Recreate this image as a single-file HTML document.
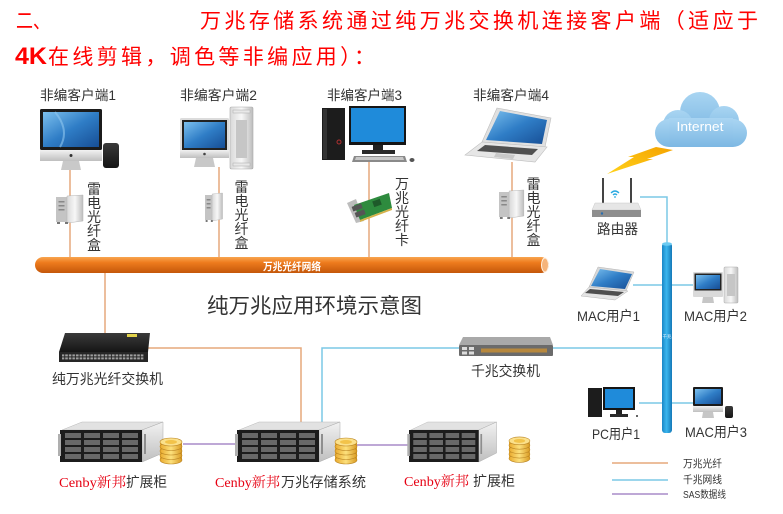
<!DOCTYPE html>
<html><head><meta charset="utf-8">
<style>
html,body{margin:0;padding:0;background:#fff;}
svg{display:block;}
text{font-family:"Liberation Sans","Noto Sans CJK SC",sans-serif;}
.lbl{fill:#333;}
.serif{font-family:"Liberation Serif","Noto Serif CJK SC",serif;}
</style></head><body>
<svg width="783" height="514" viewBox="0 0 783 514" xmlns="http://www.w3.org/2000/svg">
<defs>
 <linearGradient id="bar" x1="0" y1="0" x2="0" y2="1">
  <stop offset="0" stop-color="#F8A550"/>
  <stop offset="0.35" stop-color="#EE7B1D"/>
  <stop offset="1" stop-color="#C4570A"/>
 </linearGradient>
 <linearGradient id="scr" x1="0" y1="0" x2="1" y2="1">
  <stop offset="0" stop-color="#7CC0EE"/>
  <stop offset="0.5" stop-color="#2F7DC6"/>
  <stop offset="1" stop-color="#174E95"/>
 </linearGradient>
 <linearGradient id="silv" x1="0" y1="0" x2="1" y2="0">
  <stop offset="0" stop-color="#D8D8D8"/>
  <stop offset="0.5" stop-color="#F7F7F7"/>
  <stop offset="1" stop-color="#BDBDBD"/>
 </linearGradient>
 <linearGradient id="silvV" x1="0" y1="0" x2="0" y2="1">
  <stop offset="0" stop-color="#F2F2F2"/>
  <stop offset="1" stop-color="#BFBFBF"/>
 </linearGradient>
 <linearGradient id="pipe" x1="0" y1="0" x2="1" y2="0">
  <stop offset="0" stop-color="#1A86C6"/>
  <stop offset="0.45" stop-color="#3BB6EE"/>
  <stop offset="1" stop-color="#1479B8"/>
 </linearGradient>
 <linearGradient id="cloud" x1="0" y1="0" x2="0" y2="1">
  <stop offset="0" stop-color="#A9D5F2"/>
  <stop offset="1" stop-color="#7DB8E3"/>
 </linearGradient>
 <linearGradient id="bolt" x1="0" y1="1" x2="1" y2="0">
  <stop offset="0" stop-color="#FFD21A"/>
  <stop offset="1" stop-color="#F5A300"/>
 </linearGradient>
 <linearGradient id="blk" x1="0" y1="0" x2="0" y2="1">
  <stop offset="0" stop-color="#3A3A3A"/>
  <stop offset="1" stop-color="#151515"/>
 </linearGradient>
 <linearGradient id="gold" x1="0" y1="0" x2="1" y2="0">
  <stop offset="0" stop-color="#E9A92C"/>
  <stop offset="0.5" stop-color="#FCE07C"/>
  <stop offset="1" stop-color="#D99A22"/>
 </linearGradient>
 <pattern id="ports" width="3.6" height="3" patternUnits="userSpaceOnUse">
  <rect x="0.4" y="0.4" width="2.6" height="2" fill="#A0A0A0"/>
 </pattern>
 <g id="server">
  <polygon points="2,8 22,0 103,0 82,8" fill="#E2E2E2" stroke="#B8B8B8" stroke-width="0.5"/>
  <polygon points="82,8 103,0 103,31 82,40" fill="url(#silvV)" stroke="#AAA" stroke-width="0.5"/>
  <rect x="0" y="8" width="82" height="32" fill="#1C1C1C"/>
  <rect x="-2" y="12" width="3" height="22" fill="#AFAFAF"/>
  <rect x="84" y="12" width="2" height="20" fill="#8E8E8E"/>
  <g fill="#686868">
   <rect x="5" y="11" width="16" height="5"/><rect x="24" y="11" width="16" height="5"/><rect x="43" y="11" width="16" height="5"/><rect x="62" y="11" width="16" height="5"/>
   <rect x="5" y="18" width="16" height="5"/><rect x="24" y="18" width="16" height="5"/><rect x="43" y="18" width="16" height="5"/><rect x="62" y="18" width="16" height="5"/>
   <rect x="5" y="25" width="16" height="5"/><rect x="24" y="25" width="16" height="5"/><rect x="43" y="25" width="16" height="5"/><rect x="62" y="25" width="16" height="5"/>
   <rect x="5" y="32" width="16" height="5"/><rect x="24" y="32" width="16" height="5"/><rect x="43" y="32" width="16" height="5"/><rect x="62" y="32" width="16" height="5"/>
  </g>
 </g>
 <g id="coins" stroke="#B98423" stroke-width="0.6">
  <rect x="0" y="5" width="22" height="18" fill="url(#gold)" stroke="none"/>
  <ellipse cx="11" cy="23" rx="11" ry="4" fill="url(#gold)"/>
  <ellipse cx="11" cy="18.5" rx="11" ry="4" fill="url(#gold)"/>
  <ellipse cx="11" cy="14" rx="11" ry="4" fill="url(#gold)"/>
  <ellipse cx="11" cy="9.5" rx="11" ry="4" fill="url(#gold)"/>
  <ellipse cx="11" cy="5" rx="11" ry="4" fill="#FBE08A"/>
  <ellipse cx="11" cy="5" rx="6" ry="2" fill="#F2C34A" stroke="none"/>
 </g>
 <g id="tbox">
  <rect x="0" y="2" width="11" height="25" fill="#C4C4C4"/>
  <polygon points="11,1 27,0 27,26 11,28" fill="url(#silv)" stroke="#B5B5B5" stroke-width="0.5"/>
  <rect x="2.5" y="6" width="6" height="1.5" fill="#888"/>
  <rect x="2.5" y="10" width="6" height="1.5" fill="#888"/>
  <rect x="2.5" y="14" width="6" height="1.5" fill="#888"/>
  <rect x="1" y="27" width="3" height="2" fill="#777"/>
  <rect x="9" y="27" width="3" height="2" fill="#777"/>
 </g>
</defs>

<!-- Title -->
<text x="16" y="28" font-size="21" fill="#F00" textLength="34" lengthAdjust="spacingAndGlyphs">二、</text>
<text x="200" y="28" font-size="21" fill="#F00" textLength="558" lengthAdjust="spacing">万兆存储系统通过纯万兆交换机连接客户端（适应于</text>
<text x="15" y="64" font-size="24" font-weight="bold" fill="#F00" textLength="32" lengthAdjust="spacingAndGlyphs">4K</text>
<text x="48" y="64" font-size="21" fill="#F00" textLength="327" lengthAdjust="spacing">在线剪辑，调色等非编应用）：</text>

<!-- client labels -->
<text class="lbl" x="40" y="100" font-size="13.5" textLength="76" lengthAdjust="spacingAndGlyphs">非编客户端1</text>
<text class="lbl" x="180" y="100" font-size="13.5" textLength="77" lengthAdjust="spacingAndGlyphs">非编客户端2</text>
<text class="lbl" x="327" y="100" font-size="13.5" textLength="75" lengthAdjust="spacingAndGlyphs">非编客户端3</text>
<text class="lbl" x="473" y="100" font-size="13.5" textLength="76" lengthAdjust="spacingAndGlyphs">非编客户端4</text>

<!-- connector lines -->
<g stroke="#E6A97C" stroke-width="1.5" fill="none">
 <line x1="70" y1="168" x2="70" y2="258"/>
 <line x1="219" y1="167" x2="219" y2="258"/>
 <line x1="369" y1="162" x2="369" y2="258"/>
 <line x1="512" y1="162" x2="512" y2="258"/>
 <line x1="105" y1="272" x2="105" y2="334"/>
 <path d="M148,348 H301 V423"/>
 <line x1="612" y1="463" x2="668" y2="463"/>
</g>
<g stroke="#7CC8E6" stroke-width="1.5" fill="none">
 <path d="M322,423 V348 H460"/>
 <path d="M552,348 H664"/>
 <path d="M640,197 H667 V244"/>
 <path d="M633,285 H693"/>
 <path d="M639,403 H693"/>
 <line x1="612" y1="480" x2="668" y2="480"/>
</g>
<g stroke="#A88CC8" stroke-width="1.5" fill="none">
 <path d="M183,444 H238"/>
 <path d="M357,445 H410"/>
 <line x1="612" y1="494" x2="668" y2="494"/>
</g>

<!-- orange bar -->
<rect x="35" y="257" width="514" height="16" rx="8" fill="url(#bar)"/>
<ellipse cx="545" cy="265" rx="3.5" ry="7" fill="#F6B47A" stroke="#FFF3E6" stroke-width="1"/>
<text x="292" y="270" font-size="10.5" font-weight="bold" fill="#FFF" text-anchor="middle" textLength="58" lengthAdjust="spacingAndGlyphs">万兆光纤网络</text>

<!-- Client 1: iMac + Mac Pro -->
<rect x="40" y="109" width="62" height="41" rx="1.5" fill="#1B1B1B"/>
<rect x="43" y="112" width="56" height="35" fill="url(#scr)"/>
<path d="M55,112 Q70,130 60,147" stroke="#8FC6EE" stroke-width="2" fill="none" opacity="0.6"/>
<rect x="40" y="150" width="62" height="11" fill="url(#silvV)"/>
<circle cx="71" cy="155.5" r="1.5" fill="#333"/>
<polygon points="63,161 79,161 81,170 61,170" fill="#C9C9C9"/>
<rect x="103" y="143" width="16" height="25" rx="3" fill="url(#blk)"/>
<use href="#tbox" x="56" y="195"/>
<g class="lbl" font-size="14" text-anchor="middle">
 <text x="94" y="194">雷</text><text x="94" y="208">电</text><text x="94" y="222">光</text><text x="94" y="236">纤</text><text x="94" y="250">盒</text>
</g>

<!-- Client 2: silver iMac + Mac Pro tower -->
<rect x="180" y="118" width="49" height="40" rx="1.5" fill="#DCDCDC"/>
<rect x="182" y="120" width="45" height="30" fill="#222"/>
<rect x="184" y="122" width="41" height="26" fill="url(#scr)"/>
<rect x="180" y="150" width="49" height="8" fill="url(#silvV)"/>
<circle cx="204.5" cy="154" r="1.3" fill="#444"/>
<polygon points="196,158 213,158 215,167 194,167" fill="#C8C8C8"/>
<rect x="230" y="107" width="23" height="62" rx="1.5" fill="url(#silv)" stroke="#A9A9A9" stroke-width="0.6"/>
<rect x="233" y="110" width="17" height="3" fill="#E8E8E8" stroke="#AAA" stroke-width="0.5"/>
<rect x="233" y="163" width="17" height="3" fill="#E8E8E8" stroke="#AAA" stroke-width="0.5"/>
<rect x="236" y="120" width="11" height="38" fill="#C6C6C6"/>
<use href="#tbox" x="205" y="193" transform="translate(205,193) scale(0.65,1) translate(-205,-193)"/>
<g class="lbl" font-size="14" text-anchor="middle">
 <text x="241.5" y="192">雷</text><text x="241.5" y="206">电</text><text x="241.5" y="220">光</text><text x="241.5" y="234">纤</text><text x="241.5" y="248">盒</text>
</g>

<!-- Client 3: Dell tower + monitor + NIC -->
<rect x="322" y="108" width="23" height="52" fill="#1C1C1C"/>
<rect x="323" y="109" width="4" height="50" fill="#333"/>
<circle cx="339" cy="142" r="2" fill="none" stroke="#B03030" stroke-width="1"/>
<rect x="349" y="106" width="57" height="39" fill="#151515"/>
<rect x="351" y="108" width="53" height="34" fill="#1F8BDA"/>
<rect x="373" y="145" width="10" height="6" fill="#222"/>
<rect x="362" y="150" width="33" height="4" fill="#2A2A2A"/>
<polygon points="354,156 405,156 407,162 352,162" fill="#8A8A8A"/>
<polygon points="356,157 403,157 404,160 355,160" fill="#C8C8C8"/>
<ellipse cx="412" cy="160" rx="2.5" ry="2" fill="#555"/>
<polygon points="347,203 356,199 364,221 356,223" fill="#BDBDBD"/>
<polygon points="354,205 389,193 392,208 360,220" fill="#2E8B3E"/>
<polygon points="360,220 392,208 392,210 360,222" fill="#D6B24A"/>
<rect x="352" y="205" width="10" height="5" fill="#555" transform="rotate(-20 357 207)"/>
<rect x="355" y="211" width="10" height="5" fill="#555" transform="rotate(-20 360 213)"/>
<rect x="373" y="200" width="8" height="6" fill="#1E5A2A" transform="rotate(-20 377 203)"/>
<g class="lbl" font-size="14" text-anchor="middle">
 <text x="402" y="189">万</text><text x="402" y="203">兆</text><text x="402" y="217">光</text><text x="402" y="231">纤</text><text x="402" y="245">卡</text>
</g>

<!-- Client 4: laptop -->
<polygon points="497,108 551,118 545,147 482,142" fill="#E0E0E0" stroke="#BDBDBD" stroke-width="0.6"/>
<polygon points="500,111 547,120 542,144 486,140" fill="url(#scr)"/>
<polygon points="482,142 547,147 535,162 465,155" fill="#E6E6E6" stroke="#BDBDBD" stroke-width="0.6"/>
<polygon points="485,145 538,149 532,155 477,151" fill="#505050"/>
<polygon points="496,153 515,155 513,159 494,157" fill="#C8C8C8"/>
<use href="#tbox" x="499" y="190" transform="translate(499,190) scale(0.92,1) translate(-499,-190)"/>
<g class="lbl" font-size="14" text-anchor="middle">
 <text x="533.5" y="189">雷</text><text x="533.5" y="203">电</text><text x="533.5" y="217">光</text><text x="533.5" y="231">纤</text><text x="533.5" y="245">盒</text>
</g>

<!-- Diagram title -->
<text x="207" y="313" font-size="21" fill="#333" textLength="215" lengthAdjust="spacingAndGlyphs">纯万兆应用环境示意图</text>

<!-- 10G switch -->
<polygon points="65,333 150,333 148,352 59,352" fill="url(#blk)"/>
<rect x="59" y="352" width="89" height="10" fill="#262626"/>
<rect x="62" y="354" width="82" height="6" fill="url(#ports)"/>
<rect x="127" y="334" width="10" height="3" fill="#E2D24A"/>
<text class="lbl" x="52" y="384" font-size="14" textLength="111" lengthAdjust="spacingAndGlyphs">纯万兆光纤交换机</text>

<!-- Gigabit switch -->
<polygon points="463,337 550,337 553,345 459,345" fill="#A9A9A9"/>
<rect x="459" y="345" width="94" height="11" rx="1" fill="#6B6B6B"/>
<rect x="481" y="348.5" width="66" height="4" fill="#B7883E"/>
<g fill="#DCDCDC"><rect x="462" y="347" width="5" height="3"/><rect x="469" y="347" width="5" height="3"/><rect x="462" y="351.5" width="5" height="3"/><rect x="469" y="351.5" width="5" height="3"/></g>
<text class="lbl" x="471" y="376" font-size="14" textLength="69" lengthAdjust="spacingAndGlyphs">千兆交换机</text>

<!-- Storage -->
<use href="#server" x="60" y="422"/>
<use href="#coins" x="160" y="437"/>
<use href="#server" x="237" y="422"/>
<use href="#coins" x="335" y="437"/>
<use href="#server" transform="translate(409,422) scale(0.85,1)"/>
<use href="#coins" transform="translate(509,436) scale(0.95,0.98)"/>

<text x="59" y="487" font-size="14" textLength="67" lengthAdjust="spacingAndGlyphs" class="serif" fill="#E60012">Cenby新邦</text>
<text x="126" y="487" font-size="14" class="lbl" textLength="41" lengthAdjust="spacingAndGlyphs">扩展柜</text>
<text x="215" y="487" font-size="14" textLength="65" lengthAdjust="spacingAndGlyphs" class="serif" fill="#E60012">Cenby新邦</text>
<text x="281" y="487" font-size="14" class="lbl" textLength="85" lengthAdjust="spacingAndGlyphs">万兆存储系统</text>
<text x="404" y="486" font-size="14" textLength="65" lengthAdjust="spacingAndGlyphs" class="serif" fill="#E60012">Cenby新邦</text>
<text x="473" y="486" font-size="14" class="lbl" textLength="42" lengthAdjust="spacingAndGlyphs">扩展柜</text>

<!-- Cloud -->
<g fill="url(#cloud)">
 <circle cx="700" cy="112" r="20"/>
 <circle cx="724" cy="121" r="15"/>
 <circle cx="678" cy="125" r="15"/>
 <circle cx="733" cy="133" r="14"/>
 <circle cx="669" cy="133" r="14"/>
 <rect x="669" y="118" width="64" height="29"/>
</g>
<text x="700" y="131" font-size="13" fill="#FFF" text-anchor="middle" textLength="47" lengthAdjust="spacingAndGlyphs">Internet</text>

<!-- Lightning -->
<polygon points="607,174 634,157 628,157 656,147 673,150 647,159 653,159" fill="url(#bolt)"/>

<!-- Router -->
<line x1="603" y1="178" x2="603" y2="204" stroke="#444" stroke-width="2"/>
<line x1="631" y1="178" x2="631" y2="204" stroke="#444" stroke-width="2"/>
<g fill="none" stroke="#29A9E0" stroke-width="1.3">
 <path d="M611,193 Q615,189 619,193"/>
 <path d="M613,195 Q615,193 617,195"/>
</g>
<circle cx="615" cy="197" r="0.9" fill="#29A9E0"/>
<polygon points="595,203 638,203 641,210 592,210" fill="#E6E6E6" stroke="#C8C8C8" stroke-width="0.5"/>
<rect x="592" y="210" width="49" height="7" fill="#8E8E8E"/>
<circle cx="602" cy="213.5" r="1.2" fill="#2A6FB0"/>
<text class="lbl" x="597" y="234" font-size="14" textLength="41" lengthAdjust="spacingAndGlyphs">路由器</text>

<!-- MAC user 1 laptop -->
<polygon points="598,267 634,272 626,291 589,287" fill="#D8D8D8" stroke="#B5B5B5" stroke-width="0.5"/>
<polygon points="600,269 632,274 625,289 591,286" fill="url(#scr)"/>
<polygon points="589,287 628,291 615,300 581,296" fill="#E4E4E4" stroke="#B5B5B5" stroke-width="0.5"/>
<polygon points="590,289 624,292 618,296 585,293" fill="#4E4E4E"/>
<text class="lbl" x="577" y="321" font-size="14" textLength="63" lengthAdjust="spacingAndGlyphs">MAC用户1</text>

<!-- MAC user 2 -->
<rect x="693" y="272" width="30" height="25" rx="1" fill="#DADADA"/>
<rect x="694.5" y="273.5" width="27" height="17" fill="#222"/>
<rect x="696" y="275" width="24" height="14" fill="url(#scr)"/>
<polygon points="703,297 713,297 714,303 702,303" fill="#C6C6C6"/>
<rect x="724" y="267" width="14" height="36" rx="1" fill="url(#silv)" stroke="#A9A9A9" stroke-width="0.5"/>
<rect x="727" y="274" width="8" height="22" fill="#C6C6C6"/>
<text class="lbl" x="684" y="321" font-size="14" textLength="63" lengthAdjust="spacingAndGlyphs">MAC用户2</text>

<!-- PC user 1 -->
<rect x="588" y="388" width="14" height="29" fill="#1C1C1C"/>
<rect x="603" y="387" width="32" height="23" fill="#151515"/>
<rect x="605" y="389" width="28" height="19" fill="#1F8BDA"/>
<rect x="616" y="410" width="6" height="4" fill="#222"/>
<rect x="610" y="414" width="18" height="3" fill="#2A2A2A"/>
<circle cx="637" cy="416" r="1" fill="#333"/>
<text class="lbl" x="592" y="439" font-size="14" textLength="48" lengthAdjust="spacingAndGlyphs">PC用户1</text>

<!-- MAC user 3 -->
<rect x="693" y="387" width="30" height="19" rx="1" fill="#1B1B1B"/>
<rect x="695" y="389" width="26" height="15" fill="url(#scr)"/>
<rect x="693" y="406" width="30" height="6" fill="url(#silvV)"/>
<polygon points="703,412 713,412 714,418 702,418" fill="#C6C6C6"/>
<rect x="725" y="406" width="8" height="12" rx="2" fill="url(#blk)"/>
<text class="lbl" x="685" y="437" font-size="14" textLength="62" lengthAdjust="spacingAndGlyphs">MAC用户3</text>

<!-- Blue pipe -->
<rect x="662" y="243" width="10" height="190" rx="3" fill="url(#pipe)"/>
<ellipse cx="667" cy="244" rx="5" ry="1.8" fill="#6CCBF2"/>
<text x="667" y="338" font-size="4.5" fill="#E8F6FF" text-anchor="middle">千兆</text>

<!-- Legend -->
<text class="lbl" x="683" y="467" font-size="10.5" textLength="39" lengthAdjust="spacingAndGlyphs">万兆光纤</text>
<text class="lbl" x="683" y="483" font-size="10.5" textLength="39" lengthAdjust="spacingAndGlyphs">千兆网线</text>
<text class="lbl" x="683" y="498" font-size="10" textLength="43" lengthAdjust="spacingAndGlyphs">SAS数据线</text>
</svg>
</body></html>
